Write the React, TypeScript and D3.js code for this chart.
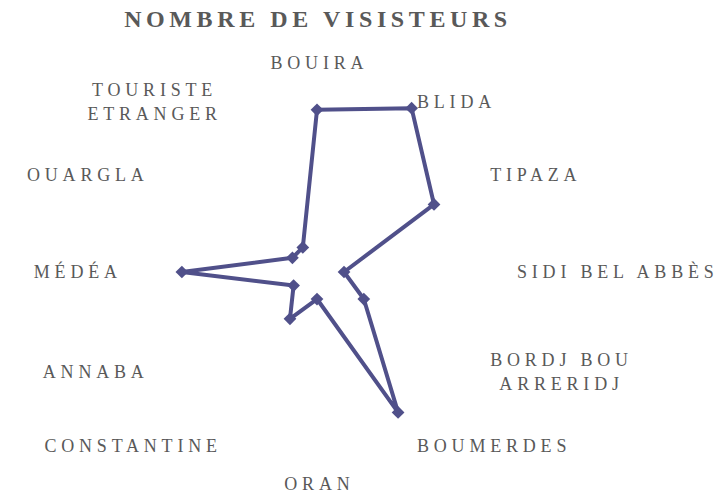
import React, { useEffect, useRef } from 'react';
import * as d3 from 'd3';

// Categories clockwise from the top
const categories = [
  'BOUIRA',
  'BLIDA',
  'TIPAZA',
  'SIDI BEL ABBÈS',
  'BORDJ BOU\nARRERIDJ',
  'BOUMERDES',
  'ORAN',
  'CONSTANTINE',
  'ANNABA',
  'MÉDÉA',
  'OUARGLA',
  'TOURISTE\nETRANGER',
];

const visitors = [6, 7, 5, 1, 2, 6, 1, 2, 1, 5, 1.05, 1.05];

const axisMax = 7.4;
const title = 'NOMBRE DE VISISTEURS';

const App = () => {
  const chartRef = useRef<SVGSVGElement>(null);

  useEffect(() => {
    const width = 718;
    const height = 494;
    const cx = 317;
    const cy = 272;
    const radius = 200;
    const textColor = '#595959';
    const lineColor = '#50508A';
    const ls = 4.8;

    const svg = d3
      .select(chartRef.current)
      .attr('width', width)
      .attr('height', height)
      .attr('viewBox', [0, 0, width, height].join(' '));

    svg.selectAll('*').remove();

    svg
      .append('text')
      .attr('x', 318)
      .attr('y', 27)
      .attr('text-anchor', 'middle')
      .attr('fill', textColor)
      .style('font', 'bold 24px "Liberation Serif", serif')
      .style('letter-spacing', '4.6px')
      .text(title);

    const angle = d3
      .scaleBand()
      .domain(categories)
      .range([0, 2 * Math.PI]);

    const r = d3.scaleLinear().domain([0, axisMax]).range([0, radius]);

    const pt = (cat: string, v: number): [number, number] => {
      const a = angle(cat)!;
      return [cx + r(v) * Math.sin(a), cy - r(v) * Math.cos(a)];
    };

    // Category labels
    const labels = svg.append('g').attr('fill', textColor);
    categories.forEach((cat) => {
      const a = angle(cat)!;
      const ax = cx + radius * Math.sin(a);
      const ay = cy - radius * Math.cos(a);
      const lines = cat.split('\n');
      const lineH = 24;
      const g = labels.append('g');
      const texts = lines.map((line) =>
        g
          .append('text')
          .attr('text-anchor', 'middle')
          .style('font', '18px "Liberation Serif", serif')
          .style('letter-spacing', `${ls}px`)
          .text(line)
      );
      const widths = texts.map((t) => (t.node() as SVGTextElement).getComputedTextLength() - ls);
      const w = d3.max(widths)!;
      const s = Math.sin(a);
      let bx = ax;
      if (s > 0.01) bx = ax + w / 2;
      else if (s < -0.01) bx = ax - w / 2;
      const c = Math.cos(a);
      const blockH = lines.length * lineH;
      let top = ay - blockH / 2 + (c > 0.4 ? 3 : 0);
      if (c > 0.99) top = ay - blockH + 3;
      else if (c < -0.99) top = ay;
      texts.forEach((t, i) => {
        t.attr('x', bx + ls / 2)
          .attr('y', top + i * lineH + lineH / 2)
          .attr('dy', '0.35em');
      });
    });

    const points = categories.map((cat, i) => pt(cat, visitors[i]));

    svg
      .append('path')
      .attr('d', d3.line().curve(d3.curveLinearClosed)(points))
      .attr('fill', 'none')
      .attr('stroke', lineColor)
      .attr('stroke-width', 4)
      .attr('stroke-linejoin', 'round');

    svg
      .append('g')
      .selectAll('path')
      .data(points)
      .join('path')
      .attr('d', d3.symbol(d3.symbolSquare, 81))
      .attr('transform', (d) => `translate(${d[0]},${d[1]}) rotate(45)`)
      .attr('fill', lineColor);
  }, []);

  return (
    <div style={{ position: 'absolute', left: 0, top: 0 }}>
      <svg ref={chartRef} style={{ display: 'block', background: '#fff' }}></svg>
    </div>
  );
};

export default App;
